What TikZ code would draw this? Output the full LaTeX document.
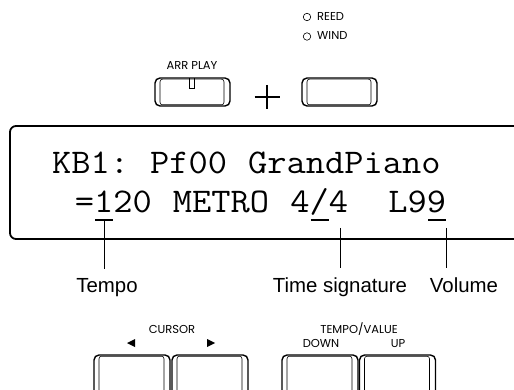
\documentclass[tikz,border=0pt]{standalone}
\usepackage{fontspec}
\newfontfamily\lcdfont{Latin Modern Mono}[FakeStretch=1.08]
\newfontfamily\lblfont{Liberation Sans}
\newfontfamily\smfont{Poppins}
\begin{document}
\begin{tikzpicture}[x=1pt,y=-1pt,
  btn/.style={draw, line width=1.4pt, rounded corners=5pt, inner sep=0pt,
    minimum width=75pt, minimum height=28pt,
    path picture={\draw[line width=0.6pt, rounded corners=2.5pt]
      ([xshift=5pt,yshift=-1.2pt]path picture bounding box.north west) rectangle
      ([xshift=-6pt,yshift=1.2pt]path picture bounding box.south east);}},
  lowbtn/.style={btn, minimum width=76pt, minimum height=46pt},
  lcdtext/.style={inner sep=0pt, anchor=base west, font=\lcdfont\fontsize{34.6}{36}\selectfont},
  lbl/.style={inner sep=0pt, anchor=base, font=\lblfont\fontsize{20.4}{22}\selectfont},
  small/.style={inner sep=0pt, anchor=base, font=\smfont\fontsize{11.5}{12}\selectfont},
  led/.style={draw, circle, line width=0.6pt, minimum size=7.5pt, inner sep=0pt},
  uline/.style={line width=1.2pt},
  pointer/.style={line width=0.8pt, shorten >=9pt}
]
\useasboundingbox (0,0) rectangle (514,390);

% top controls
\node[led] (reedled) at (307,17) {};
\node[small, anchor=base west] (reed) at (317,20.5) {REED};
\node[led] (windled) at (307,36.5) {};
\node[small, anchor=base west] (wind) at (317,40) {WIND};
\node[small] (arrlbl) at (192,70) {ARR PLAY};
\node[btn] (arr) at (192.5,92) {};
\node[btn] (voice) at (339.5,92) {};
\draw[line width=0.7pt] (189.5,78.5) -- (189.5,88.5) -- (194.5,88.5) -- (194.5,78.5);
\draw[line width=1.3pt] (254.5,97) -- (280,97) (267,85) -- (267,109.5);

% display (character cells 19.6pt wide)
\node[draw, line width=1.8pt, rounded corners=6pt, inner sep=0pt,
  minimum width=520pt, minimum height=113pt] (lcd) at (270,182.5) {};
\node[lcdtext] (w1) at (52,174) {KB1:};
\node[lcdtext] (w2) at (150,174) {Pf00};
\node[lcdtext] (w3) at (248,174) {GrandPiano};
\node[lcdtext] (w4) at (74.6,213) {=120};
\node[lcdtext] (w5) at (172.6,213) {METRO};
\node[lcdtext] (w6) at (290.2,213) {4/4};
\node[lcdtext] (w7) at (388.2,213) {L99};
\draw[uline] (95,220) -- (113,220);
\draw[uline] (310.5,220) -- (328.5,220);
\draw[uline] (428,220) -- (446,220);

% pointers and labels
\node[lbl] (tempo) at (107,292) {Tempo};
\node[lbl] (timesig) at (340,292) {Time signature};
\node[lbl] (volume) at (464,292) {Volume};
\coordinate (ptempo) at (104.5,220);
\coordinate (ptime) at (340,228);
\coordinate (pvol) at (446.5,228);
\draw[pointer] (ptempo) -- (ptempo |- tempo.north);
\draw[pointer] (ptime) -- (ptime |- timesig.north);
\draw[pointer] (pvol) -- (pvol |- volume.north);

% bottom controls
\node[small] (cursor) at (172,333) {CURSOR};
\fill (127,343) -- (135,339) -- (135,347) -- cycle;
\fill (215,343) -- (207,339) -- (207,347) -- cycle;
\node[lowbtn] (cleft) at (132,378) {};
\node[lowbtn] (cright) at (210,378) {};
\node[small] (tv) at (359,333) {TEMPO/VALUE};
\node[small] (down) at (321,347) {DOWN};
\node[small] (up) at (398,347) {UP};
\node[lowbtn] (tdown) at (320,378) {};
\node[lowbtn] (tup) at (397.5,378) {};
\end{tikzpicture}
\end{document}
